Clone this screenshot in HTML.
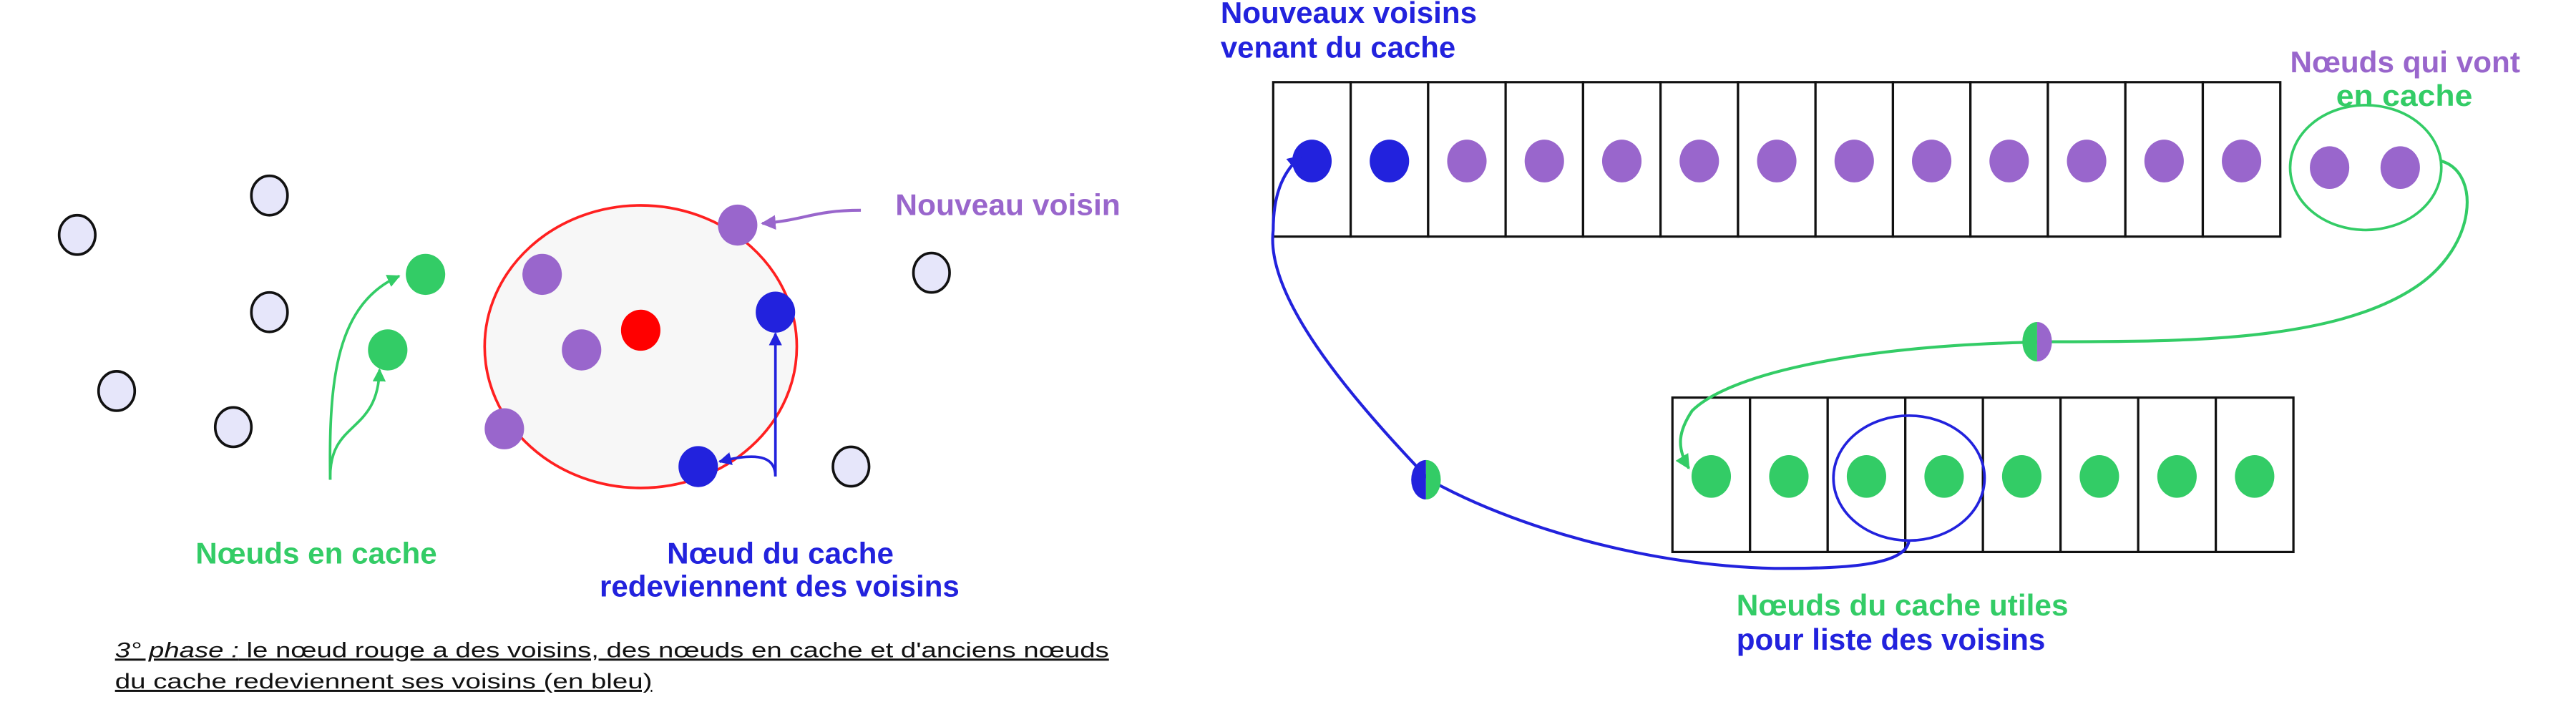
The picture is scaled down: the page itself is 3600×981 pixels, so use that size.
<!DOCTYPE html>
<html><head><meta charset="utf-8">
<style>
html,body{margin:0;padding:0;background:#fff;}
svg{display:block;}
text{font-family:"Liberation Sans",sans-serif;font-weight:bold;}
</style></head>
<body>
<svg id="d" width="3600" height="981" viewBox="0 0 1568 427.3" preserveAspectRatio="none" xmlns="http://www.w3.org/2000/svg">
<defs>
<marker id="ag" viewBox="0 0 10 10" refX="9" refY="5" markerWidth="5" markerHeight="5" orient="auto"><path d="M0,0L10,5L0,10z" fill="#33cc66"/></marker>
<marker id="ab" viewBox="0 0 10 10" refX="9" refY="5" markerWidth="5" markerHeight="5" orient="auto"><path d="M0,0L10,5L0,10z" fill="#2222dd"/></marker>
<marker id="ap" viewBox="0 0 10 10" refX="9" refY="5" markerWidth="5" markerHeight="5" orient="auto"><path d="M0,0L10,5L0,10z" fill="#9966cc"/></marker>
</defs>
<g id="left">
<ellipse cx="390" cy="211" rx="95" ry="86" fill="#f7f7f7" stroke="#ff2020" stroke-width="1.6"/>
<path d="M201,292 C200,230 205,185 243,168" fill="none" stroke="#33cc66" stroke-width="1.6" marker-end="url(#ag)"/>
<path d="M201,292 C200,255 230,265 231,225" fill="none" stroke="#33cc66" stroke-width="1.6" marker-end="url(#ag)"/>
<path d="M472,290 L472,203" fill="none" stroke="#2222dd" stroke-width="1.6" marker-end="url(#ab)"/>
<path d="M472,290 C472,280 465,274 438,281" fill="none" stroke="#2222dd" stroke-width="1.6" marker-end="url(#ab)"/>
<path d="M524,128 C495,128 490,134 464,136" fill="none" stroke="#9966cc" stroke-width="1.8" marker-end="url(#ap)"/>
<g id="leftnodes"></g>
<text x="545" y="131" font-size="18" fill="#9966cc" textLength="137" lengthAdjust="spacingAndGlyphs">Nouveau voisin</text>
<text x="119" y="343" font-size="18" fill="#33cc66" textLength="147" lengthAdjust="spacingAndGlyphs">Nœuds en cache</text>
<text x="406" y="343" font-size="18" fill="#2222dd" textLength="138" lengthAdjust="spacingAndGlyphs">Nœud du cache</text>
<text x="365" y="363" font-size="18" fill="#2222dd" textLength="219" lengthAdjust="spacingAndGlyphs">redeviennent des voisins</text>
<text x="70" y="400" font-size="13" fill="#111" text-decoration="underline" style="font-weight:normal" textLength="605" lengthAdjust="spacingAndGlyphs"><tspan font-style="italic">3° phase :</tspan> le nœud rouge a des voisins, des nœuds en cache et d'anciens nœuds</text>
<text x="70" y="419" font-size="13" fill="#111" text-decoration="underline" style="font-weight:normal" textLength="327" lengthAdjust="spacingAndGlyphs">du cache redeviennent ses voisins (en bleu)</text>
</g>
<g id="right">
<g id="toprow"></g>
<g id="botrow"></g>
<ellipse cx="1440" cy="102" rx="46" ry="38" fill="none" stroke="#33cc66" stroke-width="1.6"/>
<ellipse cx="1162" cy="291" rx="46" ry="38" fill="none" stroke="#2222dd" stroke-width="1.6"/>
<path d="M1486,98 C1510,105 1508,150 1470,175 C1420,208 1330,208 1250,208 C1120,210 1050,230 1030,250 C1022,262 1020,272 1028,285" fill="none" stroke="#33cc66" stroke-width="1.8" marker-end="url(#ag)"/>
<path d="M1162,329 C1160,345 1120,346 1080,346 C1000,344 920,320 870,292 C820,240 770,180 775,140 C775,120 780,105 792,95" fill="none" stroke="#2222dd" stroke-width="1.8" marker-end="url(#ab)"/>
<g>
<path d="M1240,196 A9,12 0 0 0 1240,220 Z" fill="#33cc66"/><path d="M1240,196 A9,12 0 0 1 1240,220 Z" fill="#9966cc"/></g>
<g>
<path d="M868,280 A9,12 0 0 0 868,304 Z" fill="#2222dd"/><path d="M868,280 A9,12 0 0 1 868,304 Z" fill="#33cc66"/></g>
<text x="743" y="14" font-size="18" fill="#2222dd" textLength="156" lengthAdjust="spacingAndGlyphs">Nouveaux voisins</text>
<text x="743" y="35" font-size="18" fill="#2222dd" textLength="143" lengthAdjust="spacingAndGlyphs">venant du cache</text>
<text x="1394" y="44" font-size="18" fill="#9966cc" textLength="140" lengthAdjust="spacingAndGlyphs">Nœuds qui vont</text>
<text x="1422" y="64.5" font-size="18" fill="#33cc66" textLength="83" lengthAdjust="spacingAndGlyphs">en  cache</text>
<text x="1057" y="374.5" font-size="18" fill="#33cc66" textLength="202" lengthAdjust="spacingAndGlyphs">Nœuds du cache utiles</text>
<text x="1057" y="395.5" font-size="18" fill="#2222dd" textLength="188" lengthAdjust="spacingAndGlyphs">pour liste des voisins</text>
</g>
</svg>
<script>
const NS='http://www.w3.org/2000/svg';
const emptyNodes=[[47,143],[164,119],[164,190],[71,238],[142,260],[567,166],[518,284]];
const greenNodes=[[259,167],[236,213]];
const purpleNodes=[[449,137],[330,167],[354,213],[307,261]];
const blueNodes=[[472,190],[425,284]];
const redNodes=[[390,201]];
const topCells=['blue','blue','purple','purple','purple','purple','purple','purple','purple','purple','purple','purple','purple'];
const topExtra=['purple','purple'];
const botCells=['green','green','green','green','green','green','green','green'];
const COL={blue:'#2222dd',purple:'#9966cc',green:'#33cc66',red:'#ff0000'};
function el(t,a,p){const e=document.createElementNS(NS,t);for(const k in a)e.setAttribute(k,a[k]);p.appendChild(e);return e;}
const ln=document.getElementById('leftnodes');
emptyNodes.forEach(p=>{const e=el('ellipse',{cx:p[0],cy:p[1],rx:11,ry:12,fill:'#e6e6fa',stroke:'#111','stroke-width':1.6},ln);

});
[[greenNodes,'green'],[purpleNodes,'purple'],[blueNodes,'blue'],[redNodes,'red']].forEach(([arr,c])=>arr.forEach(p=>{
const e=el('ellipse',{cx:p[0],cy:p[1],rx:12,ry:12.5,fill:COL[c]},ln);

}));
function row(g,x0,y0,w,h,cells,name){
cells.forEach((c,i)=>{const r=el('rect',{x:x0+i*w,y:y0,width:w,height:h,fill:'#fff',stroke:'#111','stroke-width':1.4},g);


const d=el('ellipse',{cx:x0+i*w+w/2,cy:y0+h/2+1,rx:12,ry:13,fill:COL[c]},g);

});}
const tw=(1388-775)/topCells.length;
row(document.getElementById('toprow'),775,50,tw,94,topCells,'top-row');
const tr=document.getElementById('toprow');
topExtra.forEach((c,i)=>{const d=el('ellipse',{cx:1418+i*43,cy:102,rx:12,ry:13,fill:COL[c]},tr);

});
row(document.getElementById('botrow'),1018,242,(1396-1018)/botCells.length,94,botCells,'cache-row');
</script>
</body></html>
